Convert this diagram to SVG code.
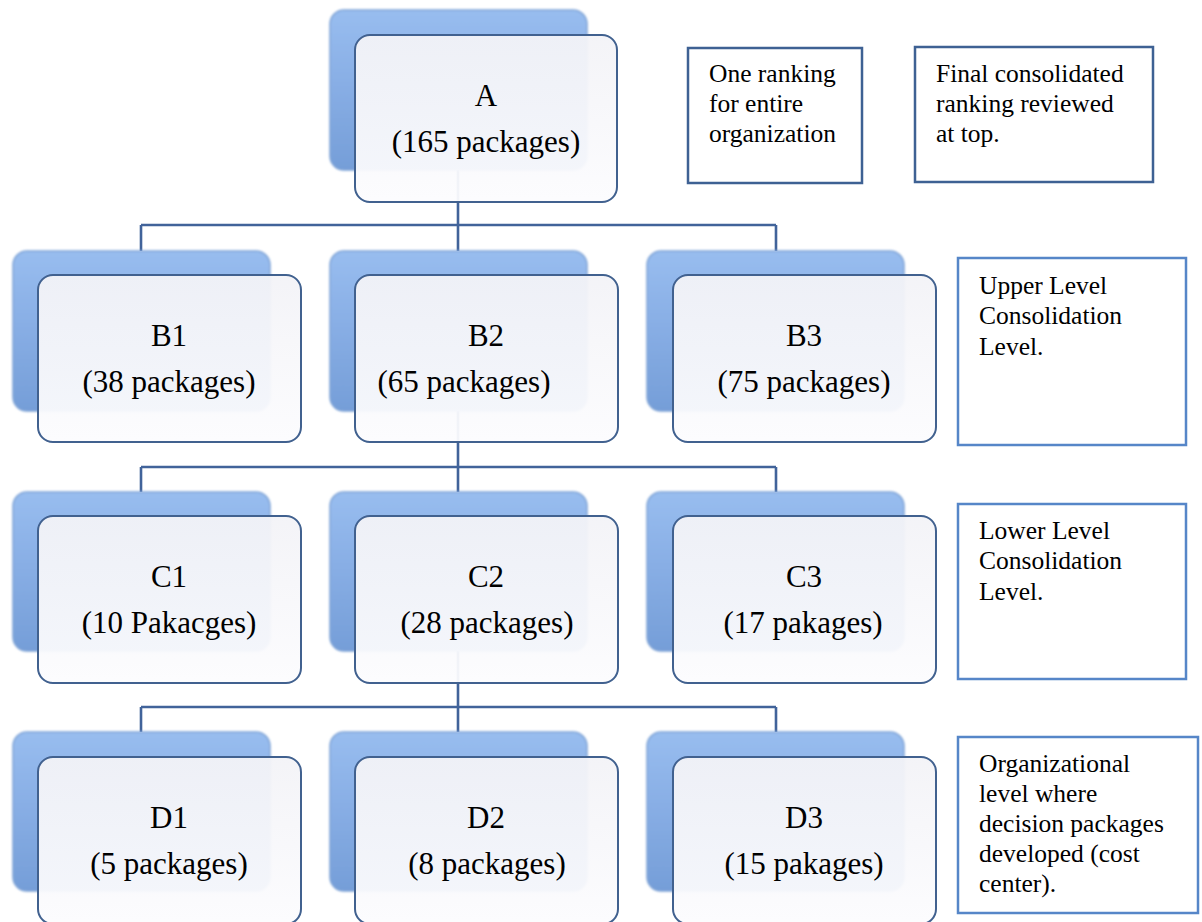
<svg xmlns="http://www.w3.org/2000/svg" width="1202" height="922" viewBox="0 0 1202 922">
<defs>
<linearGradient id="gBack" x1="0" y1="0" x2="0" y2="1">
<stop offset="0" stop-color="#98bdef"/>
<stop offset="0.5" stop-color="#87ade4"/>
<stop offset="1" stop-color="#759ed8"/>
</linearGradient>
<linearGradient id="gFront" x1="0" y1="0" x2="0" y2="1">
<stop offset="0" stop-color="#f3f3f7"/>
<stop offset="1" stop-color="#fcfcfe"/>
</linearGradient>
<filter id="soft" x="-5%" y="-5%" width="110%" height="110%">
<feGaussianBlur stdDeviation="1.2"/>
</filter>
</defs>
<style>
.back{fill:url(#gBack);stroke:#7ea3d6;stroke-width:1.5;filter:url(#soft)}
.front{fill:url(#gFront);fill-opacity:0.95;stroke:#41618f;stroke-width:2}
.conn{fill:none;stroke:#41639a;stroke-width:2.6}
.nt{font-family:"Liberation Serif","Times New Roman",serif;font-size:31px;fill:#000;text-anchor:middle}
.note{fill:#fff;stroke-width:2.5}
.n1{stroke:#3e6193}
.n2{stroke:#5686c8}
.bt{font-family:"Liberation Serif","Times New Roman",serif;font-size:25.5px;fill:#000}
</style>
<rect width="1202" height="922" fill="#fff"/>
<g id="connectors">
<path class="conn" d="M458 170 V225 M141 225 H776 M141 225 V251 M458 225 V251 M776 225 V251"/>
<path class="conn" d="M458 411 V467 M141 467 H776 M141 467 V492 M458 467 V492 M776 467 V492"/>
<path class="conn" d="M458 651 V707 M141 707 H776 M141 707 V732 M458 707 V732 M776 707 V732"/>
</g>
<g id="node-A">
<rect class="back" x="330" y="10" width="257" height="160" rx="14"/>
<rect class="front" x="355" y="35" width="262" height="167" rx="15"/>
<text class="nt" x="486" y="106">A</text>
<text class="nt" x="486" y="152">(165 packages)</text>
</g>
<g id="node-B1">
<rect class="back" x="13" y="251" width="257" height="160" rx="14"/>
<rect class="front" x="38" y="275" width="263" height="167" rx="15"/>
<text class="nt" x="169" y="346">B1</text>
<text class="nt" x="169" y="392">(38 packages)</text>
</g>
<g id="node-B2">
<rect class="back" x="330" y="251" width="257" height="160" rx="14"/>
<rect class="front" x="355" y="275" width="263" height="167" rx="15"/>
<text class="nt" x="486" y="346">B2</text>
<text class="nt" x="464" y="392">(65 packages)</text>
</g>
<g id="node-B3">
<rect class="back" x="647" y="251" width="257" height="160" rx="14"/>
<rect class="front" x="673" y="275" width="263" height="167" rx="15"/>
<text class="nt" x="804" y="346">B3</text>
<text class="nt" x="804" y="392">(75 packages)</text>
</g>
<g id="node-C1">
<rect class="back" x="13" y="492" width="257" height="159" rx="14"/>
<rect class="front" x="38" y="516" width="263" height="167" rx="15"/>
<text class="nt" x="169" y="587">C1</text>
<text class="nt" x="169" y="633">(10 Pakacges)</text>
</g>
<g id="node-C2">
<rect class="back" x="330" y="492" width="257" height="159" rx="14"/>
<rect class="front" x="355" y="516" width="263" height="167" rx="15"/>
<text class="nt" x="486" y="587">C2</text>
<text class="nt" x="487" y="633">(28 packages)</text>
</g>
<g id="node-C3">
<rect class="back" x="647" y="492" width="257" height="159" rx="14"/>
<rect class="front" x="673" y="516" width="263" height="167" rx="15"/>
<text class="nt" x="804" y="587">C3</text>
<text class="nt" x="803" y="633">(17 pakages)</text>
</g>
<g id="node-D1">
<rect class="back" x="13" y="732" width="257" height="159" rx="14"/>
<rect class="front" x="38" y="757" width="263" height="167" rx="15"/>
<text class="nt" x="169" y="828">D1</text>
<text class="nt" x="169" y="874">(5 packages)</text>
</g>
<g id="node-D2">
<rect class="back" x="330" y="732" width="257" height="159" rx="14"/>
<rect class="front" x="355" y="757" width="263" height="167" rx="15"/>
<text class="nt" x="486" y="828">D2</text>
<text class="nt" x="487" y="874">(8 packages)</text>
</g>
<g id="node-D3">
<rect class="back" x="647" y="732" width="257" height="159" rx="14"/>
<rect class="front" x="673" y="757" width="263" height="167" rx="15"/>
<text class="nt" x="804" y="828">D3</text>
<text class="nt" x="804" y="874">(15 pakages)</text>
</g>
<g id="note-ranking">
<rect class="note n1" x="688" y="48" width="174" height="135"/>
<text class="bt" x="709" y="82">One ranking</text>
<text class="bt" x="709" y="112">for entire</text>
<text class="bt" x="709" y="142">organization</text>
</g>
<g id="note-final">
<rect class="note n1" x="915" y="47" width="238" height="135"/>
<text class="bt" x="936" y="82">Final consolidated</text>
<text class="bt" x="936" y="112">ranking reviewed</text>
<text class="bt" x="936" y="142">at top.</text>
</g>
<g id="note-upper">
<rect class="note n2" x="958" y="258" width="228" height="187"/>
<text class="bt" x="979" y="294">Upper Level</text>
<text class="bt" x="979" y="324">Consolidation</text>
<text class="bt" x="979" y="355">Level.</text>
</g>
<g id="note-lower">
<rect class="note n2" x="958" y="504" width="228" height="175"/>
<text class="bt" x="979" y="539">Lower Level</text>
<text class="bt" x="979" y="569">Consolidation</text>
<text class="bt" x="979" y="600">Level.</text>
</g>
<g id="note-org">
<rect class="note n2" x="958" y="737" width="240" height="176"/>
<text class="bt" x="979" y="772">Organizational</text>
<text class="bt" x="979" y="802">level where</text>
<text class="bt" x="979" y="832">decision packages</text>
<text class="bt" x="979" y="862">developed (cost</text>
<text class="bt" x="979" y="892">center).</text>
</g>
</svg>
